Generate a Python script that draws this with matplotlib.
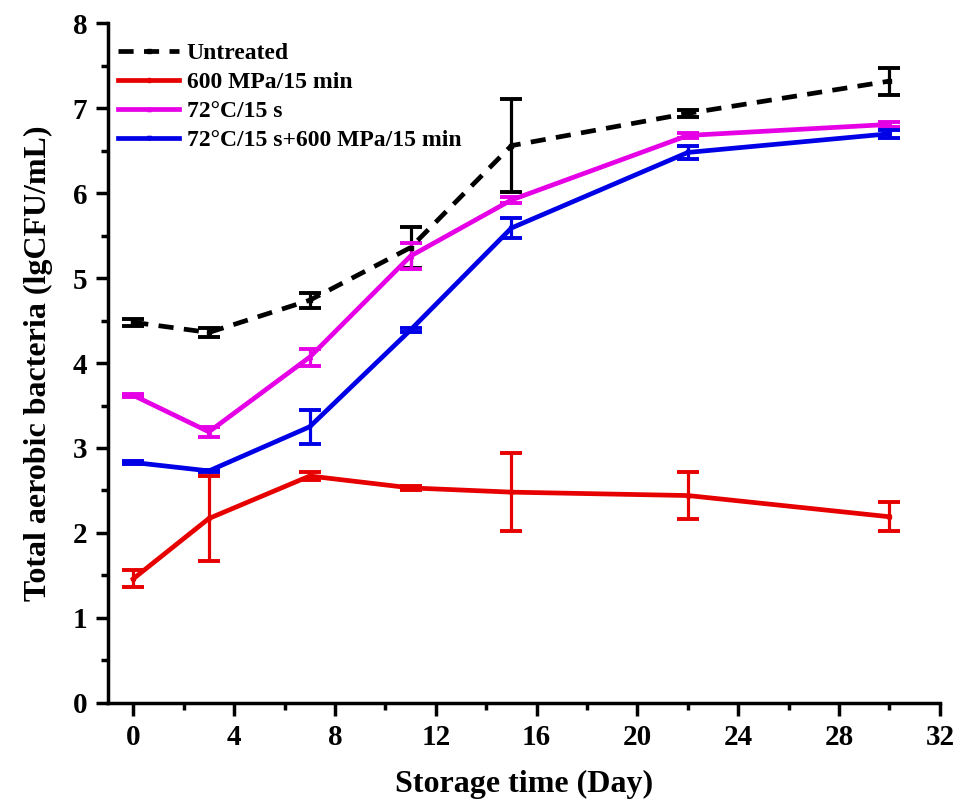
import matplotlib
matplotlib.use('Agg')
import matplotlib.pyplot as plt
from matplotlib.ticker import MultipleLocator

plt.rcParams['font.family'] = ['Liberation Serif', 'DejaVu Serif']
plt.rcParams['font.weight'] = 'bold'

days = [0, 3, 7, 11, 15, 22, 30]

untreated = [4.48, 4.36, 4.74, 5.36, 6.56, 6.94, 7.32]
untreated_err = [0.04, 0.05, 0.09, 0.24, 0.55, 0.04, 0.16]

hpp = [1.46, 2.17, 2.67, 2.53, 2.48, 2.44, 2.19]
hpp_err = [0.10, 0.50, 0.05, 0.02, 0.46, 0.28, 0.17]

heat = [3.62, 3.19, 4.07, 5.26, 5.92, 6.68, 6.81]
heat_err = [0.02, 0.06, 0.10, 0.15, 0.04, 0.03, 0.03]

combo = [2.83, 2.73, 3.25, 4.39, 5.59, 6.48, 6.70]
combo_err = [0.02, 0.01, 0.20, 0.02, 0.12, 0.08, 0.05]

series = [
	(untreated, untreated_err, 'Untreated', 'black', 's', '--'),
	(hpp, hpp_err, '600 MPa/15 min', '#e60000', 'o', '-'),
	(heat, heat_err, '72\u00b0C/15 s', '#e600e6', '^', '-'),
	(combo, combo_err, '72\u00b0C/15 s+600 MPa/15 min', '#0000e6', 'v', '-'),
]

fig = plt.figure(figsize=(9.65, 8.05), dpi=100)
ax = fig.add_axes([0.112, 0.127, 0.862, 0.844])

for y, e, lb, c, m, ls in series:
	ln, caps, bars = ax.errorbar(days, y, yerr=e, label=lb, color=c, marker=m, markersize=3,
				linestyle=ls, linewidth=3.4, elinewidth=2.3, capsize=8, capthick=2.8)
	if ls == '--':
		ln.set_dashes((3.2, 2.2))

ax.set_xlim(-1, 32)
ax.set_ylim(0, 8)
ax.xaxis.set_major_locator(MultipleLocator(4))
ax.xaxis.set_minor_locator(MultipleLocator(2))
ax.yaxis.set_major_locator(MultipleLocator(1))
ax.yaxis.set_minor_locator(MultipleLocator(0.5))
for s in ['top', 'right']:
	ax.spines[s].set_visible(False)
for s in ['left', 'bottom']:
	ax.spines[s].set_linewidth(2.5)
ax.tick_params(which='major', direction='out', length=9, width=2.5, labelsize=21, pad=6)
ax.tick_params(which='minor', direction='out', length=5, width=2.5)

ax.set_xlabel('Storage time (Day)', fontsize=23, fontweight='bold', labelpad=14)
ax.set_ylabel('Total aerobic bacteria (lgCFU/mL)', fontsize=23, fontweight='bold', labelpad=14)

h, l = ax.get_legend_handles_labels()
h = [x[0] for x in h]
ax.legend(h, l, loc='upper left', frameon=False, fontsize=17, handlelength=2.6,
		  handletextpad=0.3, labelspacing=0.32, borderaxespad=0.2, bbox_to_anchor=(-0.005, 0.993))

fig.savefig('out.png', dpi=100)
